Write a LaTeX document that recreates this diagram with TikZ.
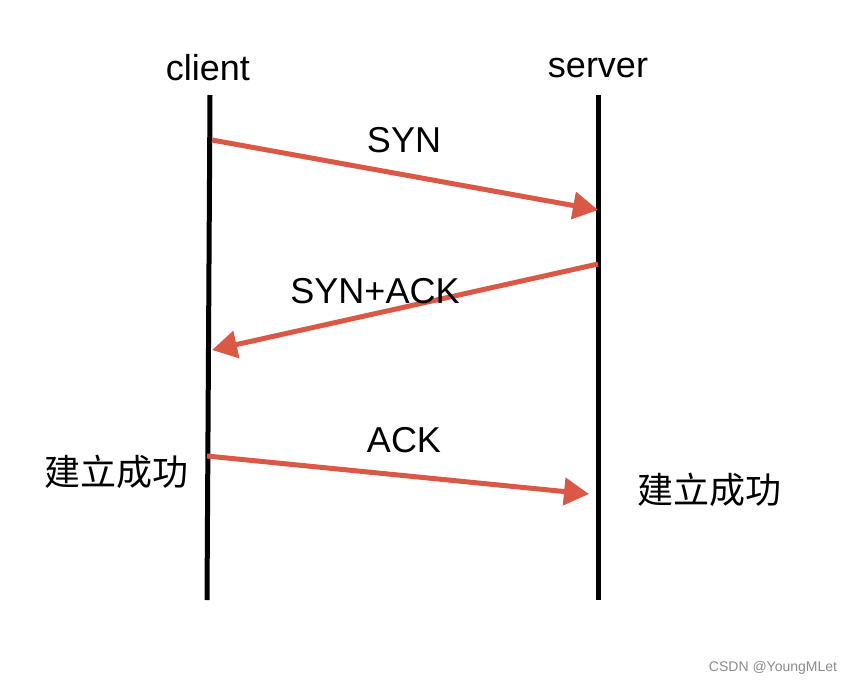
\documentclass[tikz,border=0pt]{standalone}
\usepackage{fontspec}
\setmainfont{Liberation Sans}
\newfontfamily\cjk{Noto Sans CJK SC}
\usetikzlibrary{arrows.meta}
\definecolor{arrred}{HTML}{D95846}
\begin{document}
\begin{tikzpicture}[x=1pt,y=-1pt,
  lifeline/.style={line width=5pt,black},
  msg/.style={line width=5pt,arrred,-{Triangle[length=25pt,width=27pt]},shorten >=0pt},
  lbl/.style={font=\fontsize{36}{40}\selectfont,inner sep=0pt},
  cjklbl/.style={font=\cjk\fontsize{36}{40}\selectfont,inner sep=0pt}]
\useasboundingbox (0,0) rectangle (852,686);
\fill[white] (0,0) rectangle (852,686);
% lifelines
\coordinate (ctop) at (210,95);
\coordinate (cbot) at (207,600);
\coordinate (stop) at (598,95);
\coordinate (sbot) at (598,600);
\draw[lifeline] (ctop) -- (cbot);
\draw[lifeline] (stop) -- (sbot);
\node[lbl] (client) at (208,68) {client};
\node[lbl] (server) at (598,68) {server};
% messages
\coordinate (a1) at (212,140);
\coordinate (b1) at (598,210);
\coordinate (a2) at (598,264);
\coordinate (b2) at (212,350);
\coordinate (a3) at (207,456);
\coordinate (b3) at (589,494);
\draw[msg] (a1) -- (b1);
\draw[msg] (a2) -- (b2);
\draw[msg] (a3) -- (b3);
\node[lbl] (syn) at (404,140) {SYN};
\node[lbl] (synack) at (375,291) {SYN+ACK};
\node[lbl] (ack) at (404,440) {ACK};
\node[cjklbl] (okc) at (117,472) {建立成功};
\node[cjklbl] (oks) at (709,490) {建立成功};
\node[font=\fontsize{14}{16}\selectfont,text=black!45,inner sep=0pt] (wm) at (773,668) {CSDN @YoungMLet};
\end{tikzpicture}
\end{document}
